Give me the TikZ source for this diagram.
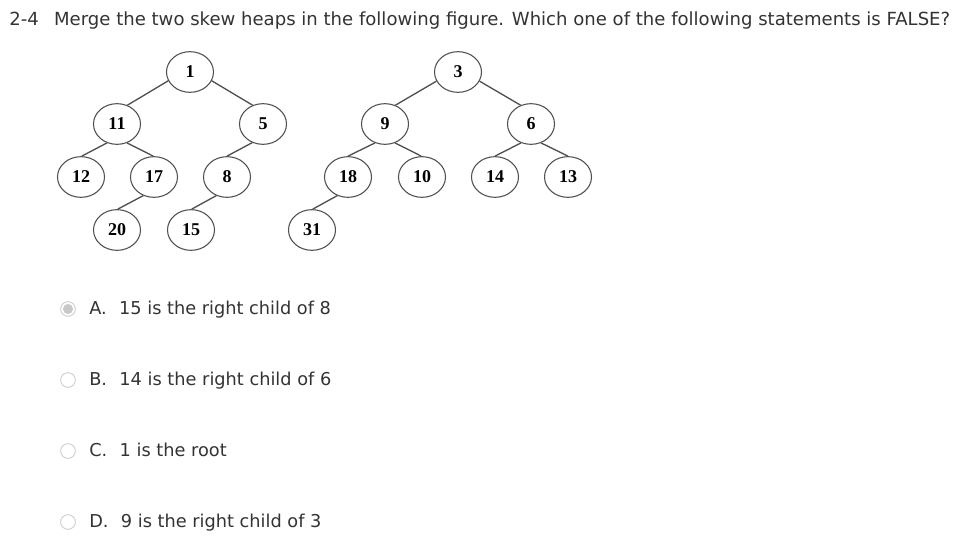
\documentclass[tikz,border=0pt]{standalone}
\usepackage{fontspec}
\setmainfont{DejaVu Sans}
\newfontfamily\heapfont{Liberation Serif}
\usetikzlibrary{shapes.geometric}
\definecolor{txt}{HTML}{333333}
\definecolor{edgec}{HTML}{505050}
\definecolor{ringc}{HTML}{CFCFCF}
\definecolor{dotc}{HTML}{C8C8C8}
\tikzset{
  hn/.style={ellipse, draw=edgec, line width=0.8pt, minimum width=35.25pt, minimum height=30.5pt, inner sep=0pt,
    font=\heapfont\bfseries\fontsize{13.5}{15}\selectfont, text=black},
  he/.style={draw=edgec, line width=1pt},
  opt/.style={anchor=base west, inner sep=0pt, text=txt, font=\fontsize{13.3}{15}\selectfont},
  radio/.style={circle, draw=ringc, line width=0.7pt, minimum size=11pt, inner sep=0pt, fill=white},
}
\begin{document}
\begin{tikzpicture}[x=0.75pt,y=-0.75pt]
\useasboundingbox (0,0) rectangle (955,553);
\node[anchor=base west, inner sep=0pt, text=txt, font=\fontsize{13.55}{16}\selectfont] (title) at (9,26)
  {2-4\hspace{0.85em}Merge the two skew heaps in the following figure. Which one of the following statements is FALSE?};
% heap 1
\node[hn] (n1) at (190,72) {1};
\node[hn] (n11) at (117,124) {11};
\node[hn] (n5) at (263,124) {5};
\node[hn] (n12) at (81,177) {12};
\node[hn] (n17) at (154,177) {17};
\node[hn] (n8) at (227,177) {8};
\node[hn] (n20) at (117,230) {20};
\node[hn] (n15) at (191,230) {15};
% heap 2
\node[hn] (n3) at (458,72) {3};
\node[hn] (n9) at (385,124) {9};
\node[hn] (n6) at (531,124) {6};
\node[hn] (n18) at (348,177) {18};
\node[hn] (n10) at (422,177) {10};
\node[hn] (n14) at (495,177) {14};
\node[hn] (n13) at (568,177) {13};
\node[hn] (n31) at (312,230) {31};
% edges
\draw[he] (n1.202) -- (n11.61);
\draw[he] (n1.338) -- (n5.119);
\draw[he] (n11.242) -- (n12.88);
\draw[he] (n11.298) -- (n17.92);
\draw[he] (n5.240) -- (n8.90);
\draw[he] (n17.240) -- (n20.88);
\draw[he] (n8.240) -- (n15.88);
\draw[he] (n3.203) -- (n9.61);
\draw[he] (n3.337) -- (n6.119);
\draw[he] (n9.242) -- (n18.90);
\draw[he] (n9.298) -- (n10.92);
\draw[he] (n6.242) -- (n14.90);
\draw[he] (n6.298) -- (n13.90);
\draw[he] (n18.240) -- (n31.88);
% options
\node[radio] (ra) at (68,309) {};
\fill[dotc] (ra.center) circle (3.8pt);
\node[radio] (rb) at (68,380) {};
\node[radio] (rc) at (68,451) {};
\node[radio] (rd) at (68,522) {};
\node[opt] (oa) at (89,314) {A.\hspace{0.7em}15 is the right child of 8};
\node[opt] (ob) at (89,385) {B.\hspace{0.7em}14 is the right child of 6};
\node[opt] (oc) at (89,456) {C.\hspace{0.7em}1 is the root};
\node[opt] (od) at (89,527) {D.\hspace{0.7em}9 is the right child of 3};
\end{tikzpicture}
\end{document}
